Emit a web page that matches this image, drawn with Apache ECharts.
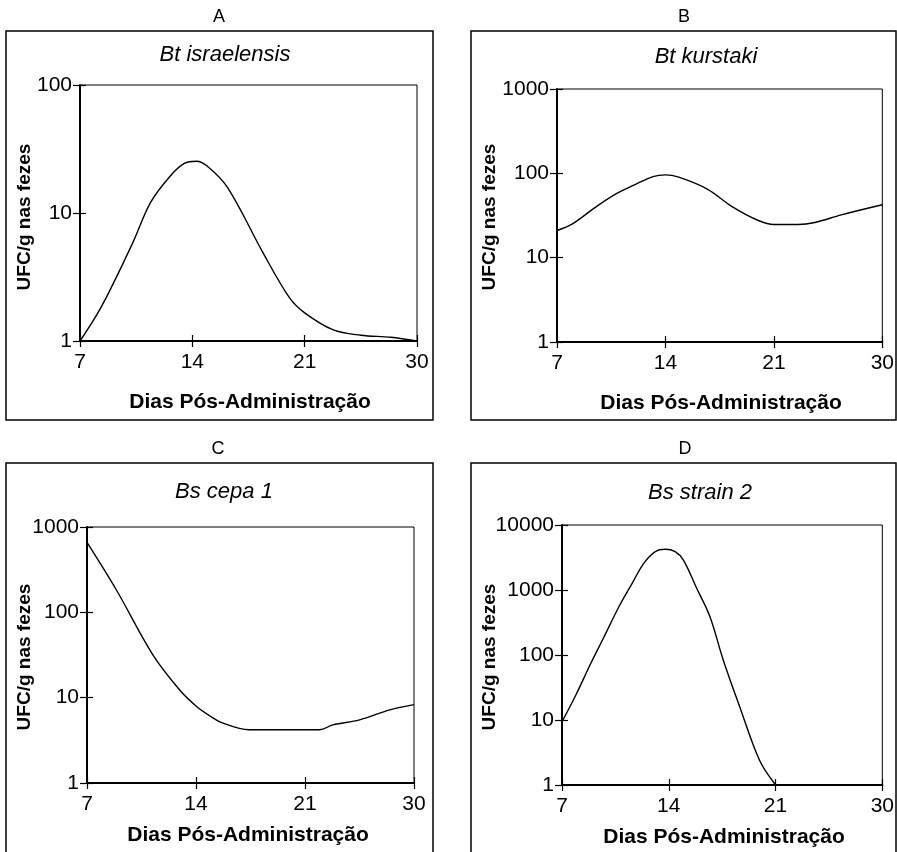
<!DOCTYPE html>
<html>
<head>
<meta charset="utf-8">
<script src="https://cdn.jsdelivr.net/npm/echarts@6/dist/echarts.min.js"></script>
<style>html,body{margin:0;padding:0;background:#fff}#c{width:897px;height:852px}</style>
</head>
<body>
<div id="c"></div>
<script>
// ---- data ----
const xTickLabels = [7, 14, 21, 30];
const panelLetters = ['A', 'B', 'C', 'D'];
const panelTitles = ['Bt israelensis', 'Bt kurstaki', 'Bs cepa 1', 'Bs strain 2'];
const yMax = [100, 1000, 1000, 10000];
const xTitle = 'Dias Pós-Administração';
const yTitle = 'UFC/g nas fezes';

const daysA = [7, 8.04, 8.87, 10.3, 11.4, 12.6, 13.5, 14.25, 14.94, 16.2, 18.4, 20.06, 21, 23.3, 25.5, 27.9, 30];
const valsA = [1, 1.6, 2.5, 5.9, 12.1, 19.3, 24.4, 25.4, 23.2, 15.8, 4.9, 2.17, 1.66, 1.22, 1.11, 1.07, 1.0];

const daysB = [7, 8.0, 9.4, 10.7, 12.0, 13.2, 14.0, 14.86, 16.7, 18.3, 20.0, 21, 23.0, 24.4, 26.6, 30];
const valsB = [21, 25.2, 38.7, 55.6, 73, 91.6, 96, 90, 65, 40.4, 27.6, 24.7, 24.7, 26.1, 32.2, 42.4];

const daysC = [7, 8.88, 11.23, 12.94, 14, 14.9, 15.65, 17.4, 22.2, 23.3, 25.5, 28.0, 30];
const valsC = [661, 184, 31.8, 12.4, 8.0, 6.1, 5.1, 4.2, 4.2, 4.8, 5.5, 7.2, 8.3];

const daysD = [7, 7.91, 8.89, 9.76, 10.73, 11.6, 12.36, 13.12, 13.77, 14.42, 14.96, 15.83, 16.7, 17.57, 18.65, 19.95, 21];
const valsD = [9.4, 24.3, 74.5, 191, 553, 1268, 2570, 3890, 4230, 3890, 2890, 1062, 389, 84, 16, 2.4, 1];

// ---- layout ----
const grids = [
  {left: 80, top: 85, width: 337, height: 256},
  {left: 557, top: 89, width: 326, height: 253},
  {left: 87, top: 527, width: 327, height: 256},
  {left: 562, top: 525, width: 323, height: 260}
];
const boxes = [[6, 31, 427, 389], [471, 31, 425, 389], [6, 463, 427, 400], [471, 463, 425, 400]];
const letterPos = [[219, 17], [684, 17], [218, 449], [685, 449]];
const subPos = [[225, 55], [706, 57], [224, 492], [700, 493]];
const yTitlePos = [[25, 217], [490, 217], [25, 657], [490, 657]];
const xTitlePos = [[250, 402], [721, 403], [248, 835], [724, 837]];

// The x axis places 7,14,21,30 at equal spacing: map a day to its position.
function dayPos(d) {
  if (d <= 14) return (d - 7) / 7;
  if (d <= 21) return 1 + (d - 14) / 7;
  return 2 + (d - 21) / 9;
}
function toData(days, vals) { return days.map((d, i) => [dayPos(d), vals[i]]); }
const seriesData = [toData(daysA, valsA), toData(daysB, valsB), toData(daysC, valsC), toData(daysD, valsD)];

const FONT = '"Liberation Sans", Arial, sans-serif';
const xAxes = [], yAxes = [], series = [], graphics = [];
for (let i = 0; i < 4; i++) {
  const xBase = {
    type: 'value', gridIndex: i, min: 0, max: 3, interval: 1, position: 'bottom',
    splitLine: {show: false}
  };
  xAxes.push(Object.assign({}, xBase, {
    axisLine: {show: true, lineStyle: {color: '#000', width: 2}},
    axisTick: {show: true, inside: false, length: 6, lineStyle: {color: '#000', width: 1.2}},
    axisLabel: {show: true, margin: 11, color: '#000', fontSize: 21, fontFamily: FONT,
      showMinLabel: true, showMaxLabel: true,
      formatter: v => String(xTickLabels[Math.round(v)])}
  }));
  xAxes.push(Object.assign({}, xBase, {
    axisLine: {show: false},
    axisTick: {show: true, inside: true, length: 6, lineStyle: {color: '#000', width: 1.2}},
    axisLabel: {show: false}
  }));
  const yBase = {
    type: 'log', logBase: 10, gridIndex: i, min: 1, max: yMax[i], interval: 1, position: 'left',
    splitLine: {show: false}
  };
  yAxes.push(Object.assign({}, yBase, {
    axisLine: {show: true, lineStyle: {color: '#000', width: 2}},
    axisTick: {show: true, inside: false, length: 7, lineStyle: {color: '#000', width: 1.2}},
    axisLabel: {show: true, margin: 8, color: '#000', fontSize: 21, fontFamily: FONT,
      showMinLabel: true, showMaxLabel: true,
      formatter: v => String(Math.round(v))}
  }));
  yAxes.push(Object.assign({}, yBase, {
    axisLine: {show: false},
    axisTick: {show: true, inside: true, length: 6, lineStyle: {color: '#000', width: 1.2}},
    axisLabel: {show: false}
  }));
  series.push({
    type: 'line', xAxisIndex: 2 * i, yAxisIndex: 2 * i, data: seriesData[i],
    smooth: 0.35, symbol: 'none', lineStyle: {color: '#000', width: 1.4}, silent: true
  });
  const b = boxes[i];
  graphics.push({type: 'rect', shape: {x: b[0], y: b[1], width: b[2], height: b[3]},
    style: {fill: null, stroke: '#000', lineWidth: 1.5}, silent: true});
  graphics.push({type: 'text', x: letterPos[i][0], y: letterPos[i][1],
    style: {text: panelLetters[i], fill: '#000', font: '18px ' + FONT, align: 'center', verticalAlign: 'middle'}});
  graphics.push({type: 'text', x: subPos[i][0], y: subPos[i][1],
    style: {text: panelTitles[i], fill: '#000', font: 'italic 22px ' + FONT, align: 'center', verticalAlign: 'middle'}});
  graphics.push({type: 'text', x: yTitlePos[i][0], y: yTitlePos[i][1], rotation: Math.PI / 2,
    style: {text: yTitle, fill: '#000', font: 'bold 19px ' + FONT, align: 'center', verticalAlign: 'middle'}});
  graphics.push({type: 'text', x: xTitlePos[i][0], y: xTitlePos[i][1],
    style: {text: xTitle, fill: '#000', font: 'bold 21px ' + FONT, align: 'center', verticalAlign: 'middle'}});
}

const chart = echarts.init(document.getElementById('c'), null, {renderer: 'canvas'});
chart.setOption({
  backgroundColor: '#fff',
  animation: false,
  grid: grids.map(g => Object.assign({show: true, borderColor: '#000', borderWidth: 1, backgroundColor: 'transparent', containLabel: false}, g)),
  xAxis: xAxes,
  yAxis: yAxes,
  series: series,
  graphic: graphics
});
</script>
</body>
</html>
